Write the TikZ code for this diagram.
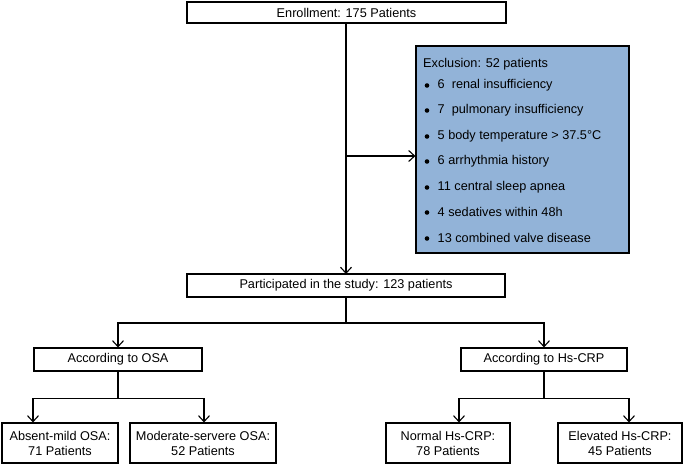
\documentclass[tikz,border=0pt]{standalone}
\usepackage{fontspec}
\setmainfont{Liberation Sans}
\usetikzlibrary{arrows.meta}
\definecolor{exfill}{RGB}{146,179,216}
\begin{document}
\begin{tikzpicture}[x=1pt,y=-1pt,
  font=\fontsize{12.7}{15}\selectfont,
  box/.style={draw=black,line width=1.1pt,fill=white,inner sep=0pt,align=center},
  arr/.style={line width=1.1pt,-{Straight Barb[length=6pt,width=11pt,line width=1.1pt]}},
  ln/.style={line width=1.1pt},
  itemtxt/.style={anchor=west,inner sep=0pt},
  bulletdot/.style={circle,fill=black,inner sep=0pt,minimum size=4.6pt}
]
\useasboundingbox (0,0) rectangle (685,464);
\node[box,minimum width=319pt,minimum height=21pt] (enroll) at (346.5,12.5) {Enrollment: 175 Patients};
\node[box,minimum width=213pt,minimum height=207pt,fill=exfill] (excl) at (522.5,149.5) {};
\node[box,minimum width=318pt,minimum height=23pt] (part) at (346,285.5) {Participated in the study: 123 patients};
\node[box,minimum width=168pt,minimum height=23pt] (osa) at (118,359.5) {According to OSA};
\node[box,minimum width=166pt,minimum height=23pt] (hs) at (544,359.5) {According to Hs-CRP};
\node[box,minimum width=116pt,minimum height=40pt] (absent) at (60,443) {Absent-mild OSA:\\71 Patients};
\node[box,minimum width=146pt,minimum height=40pt] (moder) at (203,443) {Moderate-servere OSA:\\52 Patients};
\node[box,minimum width=124pt,minimum height=40pt] (normal) at (448,443) {Normal Hs-CRP:\\78 Patients};
\node[box,minimum width=124pt,minimum height=40pt] (elev) at (620,443) {Elevated Hs-CRP:\\45 Patients};

\node[itemtxt] (exhead) at (423,64) {Exclusion: 52 patients};
\foreach \y/\t [count=\i] in {85/{6\ \ renal insufficiency},110/{7\ \ pulmonary insufficiency},136/{5 body temperature > 37.5°C},161/{6 arrhythmia history},187/{11 central sleep apnea},212/{4 sedatives within 48h},238/{13 combined valve disease}}{
  \node[bulletdot] (bul\i) at (427,\y+0.5) {};
  \node[itemtxt] (item\i) at (437.5,\y) {\t};
}

\draw[arr] (346,23) coordinate (etop) -- (346,274) coordinate (ptop);
\draw[ln] (enroll.south) -- (etop);
\draw[arr] (346,156) coordinate (br) -- (excl.west |- br);
\draw[arr] (part.south) -- (346,323) coordinate (b1) -| (osa.north);
\draw[arr] (b1) -| (hs.north);
\draw[arr] (osa.south) -- (118,398.5) coordinate (b2) -| ([xshift=-27pt]absent.north);
\draw[arr] (b2) -| ([xshift=1pt]moder.north);
\draw[arr] (hs.south) -- (544,398.5) coordinate (b3) -| ([xshift=11pt]normal.north);
\draw[arr] (b3) -| ([xshift=9pt]elev.north);
\end{tikzpicture}
\end{document}
